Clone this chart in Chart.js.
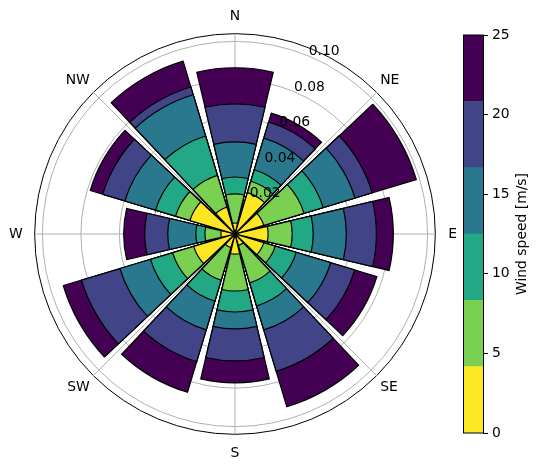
<!DOCTYPE html>
<html>
<head>
<meta charset="utf-8">
<script src="https://cdn.jsdelivr.net/npm/chart.js@4.4.0/dist/chart.umd.min.js"></script>
<style>
  html, body { margin: 0; padding: 0; background: #fff; }
  body { width: 540px; height: 469px; position: relative; overflow: hidden; }
  #rose { position: absolute; left: 3px; top: 8px; }
  #cbar { position: absolute; left: 463px; top: 25px; }
</style>
</head>
<body>
<canvas id="rose" width="462" height="456"></canvas>
<canvas id="cbar" width="77" height="418"></canvas>
<script>
// wind direction of each bar, degrees clockwise from north
const directions = [0, 30, 60, 90, 120, 150, 180, 210, 240, 270, 300, 330];
const compassLabels = ['N', 'NE', 'E', 'SE', 'S', 'SW', 'W', 'NW'];

// speed bins [m/s] and their colours
const speedEdges = [0, 4.17, 8.33, 12.5, 16.67, 20.83, 25];
const binColors = ['#fde725', '#7ad151', '#22a884', '#2a788e', '#414487', '#440154'];

// frequency of each speed bin per direction
const freq_0_4   = [0.0057, 0.0224, 0.0156, 0.0172, 0.0156, 0.0062, 0.0104, 0.0073, 0.0224, 0.0073, 0.0244, 0.0146];
const freq_4_8   = [0.0151, 0.0062, 0.0218, 0.0125, 0.0062, 0.0203, 0.0192, 0.0177, 0.0114, 0.0083, 0.0078, 0.0172];
const freq_8_12  = [0.0088, 0.0062, 0.0104, 0.0109, 0.0114, 0.0125, 0.0109, 0.0114, 0.0120, 0.0047, 0.0109, 0.0213];
const freq_12_17 = [0.0182, 0.0172, 0.0172, 0.0172, 0.0187, 0.0130, 0.0088, 0.0156, 0.0166, 0.0146, 0.0166, 0.0224];
const freq_17_21 = [0.0198, 0.0088, 0.0094, 0.0156, 0.0130, 0.0224, 0.0166, 0.0172, 0.0208, 0.0120, 0.0120, 0.0042];
const freq_21_25 = [0.0187, 0.0047, 0.0239, 0.0088, 0.0120, 0.0192, 0.0114, 0.0166, 0.0099, 0.0109, 0.0068, 0.0140];

const radialTicks = [0.02, 0.04, 0.06, 0.08, 0.10];
const rMax = 0.104;
const colorbarTicks = [0, 5, 10, 15, 20, 25];
const colorbarTitle = 'Wind speed [m/s]';

const barWidth = 26.6; // degrees
const FONT = { family: 'DejaVu Sans', size: 13.9 };

// stack the bins: each dataset is the running total, drawn largest first
const bins = [freq_0_4, freq_4_8, freq_8_12, freq_12_17, freq_17_21, freq_21_25];
let running = directions.map(() => 0);
const cumulative = bins.map(b => (running = running.map((v, j) => v + b[j])));

// arcs are laid out one after another, so pad with empty ones:
// a spacer that brings the first bar to centre on north, then gaps between bars
let angles = [360 - barWidth / 2];
let isBar = [false];
for (let j = 0; j < directions.length; j++) {
    angles.push(barWidth);
    isBar.push(true);
    if (j < directions.length - 1) {
        angles.push(directions[j + 1] - directions[j] - barWidth);
        isBar.push(false);
    }
}

function arcData(values)
{
    let out = [0];
    values.forEach((v, j) => {
        out.push(v);
        if (j < values.length - 1) out.push(0);
    });
    return out;
}

let roseDatasets = cumulative.map((c, k) => ({
    data: arcData(c),
    angle: ctx => angles[ctx.dataIndex],
    backgroundColor: ctx => isBar[ctx.dataIndex] ? binColors[k] : 'rgba(0,0,0,0)',
    borderColor: '#000',
    borderWidth: ctx => isBar[ctx.dataIndex] ? 1.2 : 0,
    borderJoinStyle: 'miter',
}));

// r tick labels sit at 22.5 degrees like matplotlib's polar axes
const radialTickLabels = {
    id: 'radialTickLabels',
    afterDraw(chart) {
        const s = chart.scales.r;
        const ctx = chart.ctx;
        const a = 22.5 * Math.PI / 180;
        ctx.save();
        ctx.font = FONT.size + 'px "' + FONT.family + '"';
        ctx.fillStyle = '#000';
        ctx.textAlign = 'left';
        ctx.textBaseline = 'alphabetic';
        radialTicks.forEach(v => {
            const r = s.getDistanceFromCenterForValue(v);
            ctx.fillText(v.toFixed(2), s.xCenter + r * Math.sin(a), s.yCenter - r * Math.cos(a) - 1);
        });
        ctx.restore();
    }
};

// label padding: N, NE, E, SE, S, SW, W, NW
const labelPad = [9, 5, 13, 5, 11, 5, 12, 5];

new Chart(document.getElementById('rose'), {
    type: 'polarArea',
    data: {
        labels: compassLabels,
        datasets: roseDatasets
    },
    options: {
        responsive: false,
        animation: false,
        events: [],
        plugins: {
            legend: { display: false },
            tooltip: { enabled: false }
        },
        scales: {
            r: {
                min: 0,
                max: rMax,
                startAngle: 0,
                afterBuildTicks: scale => {
                    scale.ticks = [0, ...radialTicks, rMax].map(v => ({ value: v }));
                },
                ticks: { display: false, z: 1 },
                grid: {
                    circular: true,
                    color: ctx => (ctx.tick && ctx.tick.value === rMax) ? '#000' : '#b0b0b0',
                    lineWidth: 1
                },
                angleLines: { display: true, color: '#b0b0b0', lineWidth: 1 },
                pointLabels: {
                    display: true,
                    color: '#000',
                    font: FONT,
                    padding: ctx => labelPad[ctx.index]
                }
            }
        }
    },
    plugins: [radialTickLabels]
});

// colorbar as a single floating-bar column
const colorbarFrame = {
    id: 'colorbarFrame',
    afterDraw(chart) {
        const ctx = chart.ctx;
        const a = chart.chartArea;
        ctx.save();
        ctx.strokeStyle = '#000';
        ctx.lineWidth = 1;
        ctx.strokeRect(a.left + 0.5, a.top, a.right - a.left, a.bottom - a.top);
        ctx.font = FONT.size + 'px "' + FONT.family + '"';
        ctx.fillStyle = '#000';
        ctx.textAlign = 'center';
        ctx.textBaseline = 'middle';
        ctx.translate(a.right + 39, (a.top + a.bottom) / 2);
        ctx.rotate(-Math.PI / 2);
        ctx.fillText(colorbarTitle, 0, 0);
        ctx.restore();
    }
};

new Chart(document.getElementById('cbar'), {
    type: 'bar',
    data: {
        labels: [''],
        datasets: binColors.map((c, i) => ({
            data: [[speedEdges[i], speedEdges[i + 1]]],
            backgroundColor: c,
            borderWidth: 0,
            grouped: false,
            barPercentage: 1,
            categoryPercentage: 1
        }))
    },
    options: {
        responsive: false,
        animation: false,
        events: [],
        layout: { padding: { top: 10, bottom: 10, left: 0, right: 0 } },
        plugins: {
            legend: { display: false },
            tooltip: { enabled: false }
        },
        scales: {
            x: { display: false },
            y: {
                position: 'right',
                min: 0,
                max: 25,
                afterBuildTicks: scale => {
                    scale.ticks = colorbarTicks.map(v => ({ value: v }));
                },
                afterFit: scale => {
                    scale.width = 57;
                    scale.paddingTop = 0;
                    scale.paddingBottom = 0;
                },
                ticks: { color: '#000', font: FONT, padding: 4 },
                grid: { drawOnChartArea: false, drawTicks: true, tickLength: 5, color: '#000', lineWidth: 1 },
                border: { display: false }
            }
        }
    },
    plugins: [colorbarFrame]
});
</script>
</body>
</html>
